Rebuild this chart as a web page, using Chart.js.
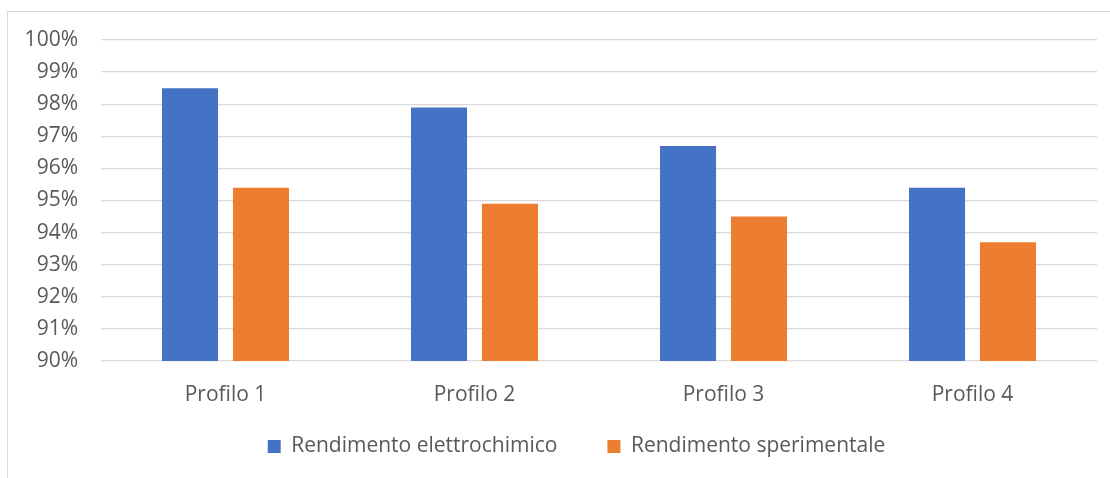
<!DOCTYPE html>
<html>
<head>
<meta charset="utf-8">
<script src="https://cdn.jsdelivr.net/npm/chart.js@4"></script>
<style>
  html, body { margin: 0; padding: 0; background: #fff; overflow: hidden; }
  .frame {
    position: absolute; left: 7px; top: 11px;
    width: 1160px; height: 480px;
    border-left: 1px solid #d9d9d9; border-top: 1px solid #d9d9d9;
  }
  canvas { display: block; }
</style>
</head>
<body>
<div class="frame"><canvas id="rendimentoChart" width="1158" height="466"></canvas></div>
<script>
  // Profili di prova e rendimenti (%)
  var profili = ['Profilo 1', 'Profilo 2', 'Profilo 3', 'Profilo 4'];
  var rendElettrochimico = [98.5, 97.9, 96.7, 95.4];
  var rendSperimentale = [95.4, 94.9, 94.5, 93.7];
  var yTicks = [90, 91, 92, 93, 94, 95, 96, 97, 98, 99, 100];

  var font = { family: '"Open Sans", sans-serif', size: 21 };
  var textColor = '#595959';

  var chart = new Chart(document.getElementById('rendimentoChart'), {
    type: 'bar',
    data: {
      labels: profili,
      datasets: [{
        label: 'Rendimento elettrochimico',
        data: rendElettrochimico,
        backgroundColor: '#4472c4',
        categoryPercentage: 0.57,
        barPercentage: 0.79
      }, {
        label: 'Rendimento sperimentale',
        data: rendSperimentale,
        backgroundColor: '#ed7d31',
        categoryPercentage: 0.57,
        barPercentage: 0.79
      }]
    },
    options: {
      responsive: false,
      animation: false,
      layout: { padding: { top: 28, right: 0, bottom: 11, left: 0 } },
      scales: {
        x: {
          grid: { display: false },
          border: { display: false },
          ticks: { color: textColor, font: font, padding: 13 },
          afterFit: function(scale) { scale.height = 46; }
        },
        y: {
          min: 90,
          max: 100,
          afterBuildTicks: function(scale) {
            scale.ticks = yTicks.map(function(v) { return { value: v }; });
          },
          grid: { color: '#d9d9d9', lineWidth: 1.3, drawTicks: false },
          border: { display: false },
          ticks: {
            color: textColor, font: font, padding: 23,
            callback: function(v) { return v + '%'; }
          },
          afterFit: function(scale) {
            scale.width = 93;
            scale.paddingTop = 0;
            scale.paddingBottom = 0;
          }
        },
        // empty strip on the right, the frame runs on past the plot
        yRight: {
          position: 'right',
          grid: { display: false },
          border: { display: false },
          ticks: { display: false },
          afterFit: function(scale) {
            scale.width = 69;
            scale.paddingTop = 0;
            scale.paddingBottom = 0;
          }
        }
      },
      plugins: {
        tooltip: { enabled: false },
        legend: {
          position: 'bottom',
          maxHeight: 60,
          labels: {
            color: textColor,
            font: font,
            boxWidth: 13,
            boxHeight: 13,
            padding: 29,
            // extra room after each entry, like the wide spacing between the two series
            generateLabels: function(c) {
              var items = Chart.defaults.plugins.legend.labels.generateLabels(c);
              items.forEach(function(it) { it.text = it.text + '\u2002\u2002'; });
              return items;
            }
          }
        }
      }
    }
  });
</script>
</body>
</html>
